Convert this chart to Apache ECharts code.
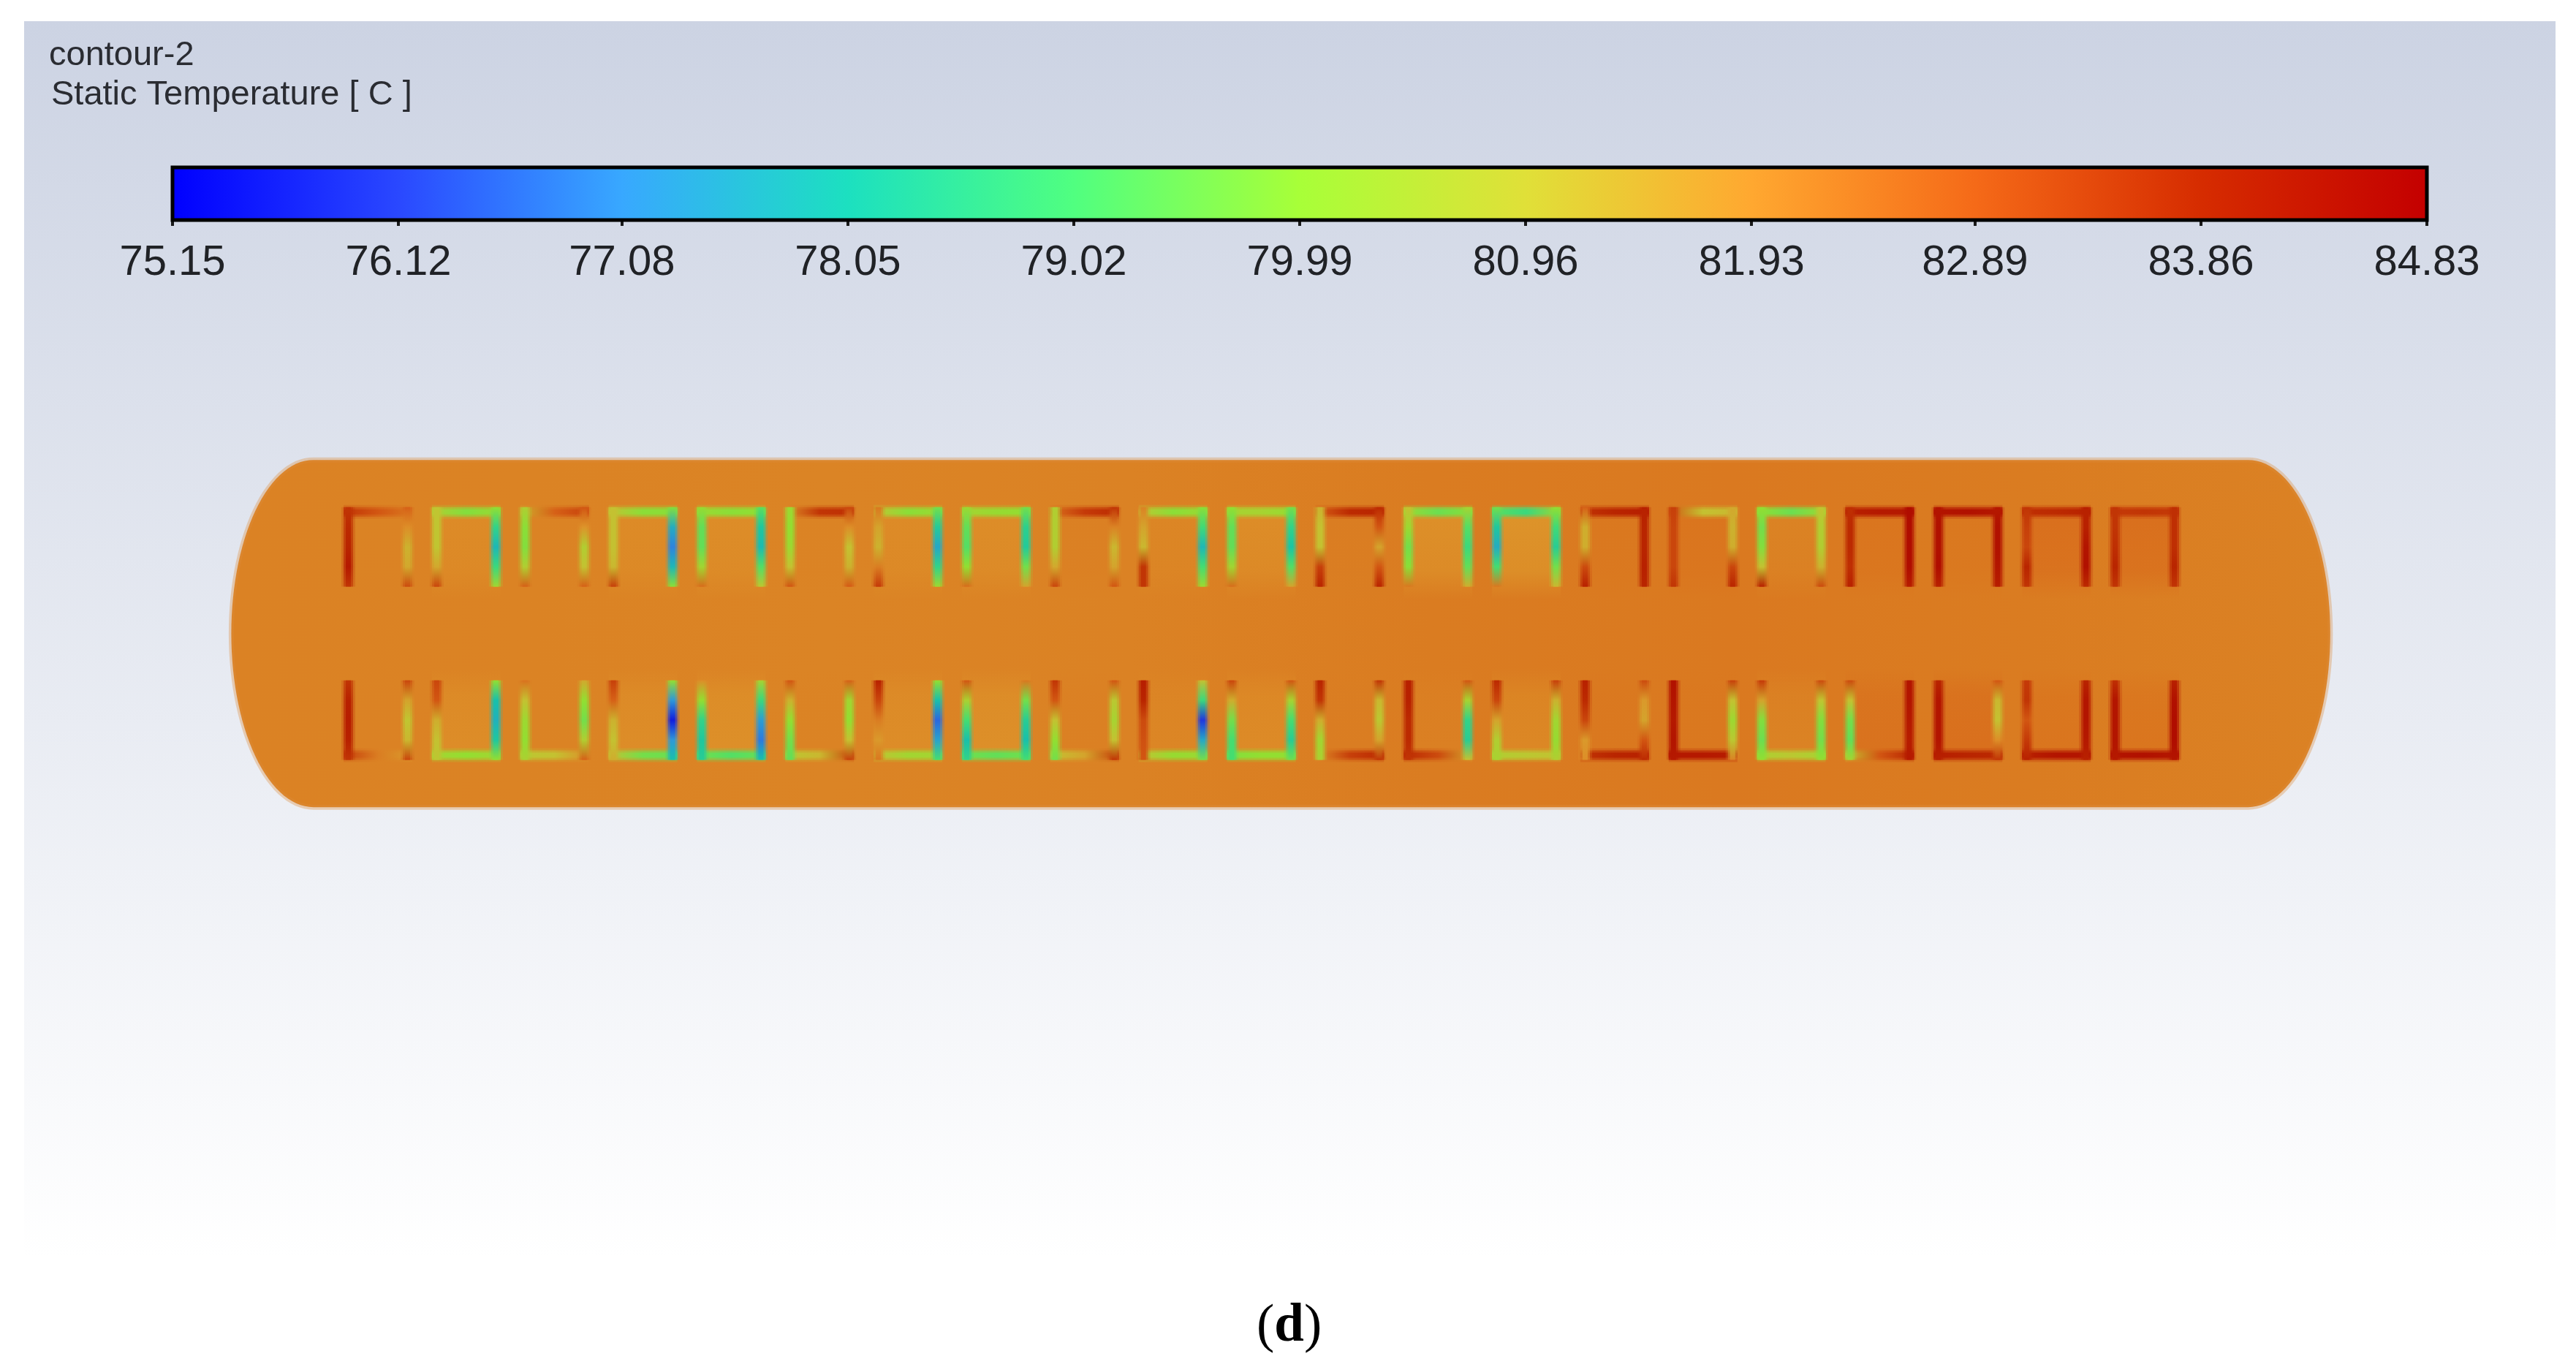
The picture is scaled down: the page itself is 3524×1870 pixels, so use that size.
<!DOCTYPE html>
<html>
<head>
<meta charset="utf-8">
<title>contour-2</title>
<style>
	html, body { margin: 0; padding: 0; background: #fff; }
</style>
<script src="https://cdn.jsdelivr.net/npm/echarts@6/dist/echarts.min.js"></script>
</head>
<body>
<!-- chart dom, same size as the window -->
<div id="main" style="width: 3524px;height:1870px;"></div>
<script type="text/javascript">
	// colour scale: tick labels and colour of the legend bar at each tick
	var tickLabels = ['75.15', '76.12', '77.08', '78.05', '79.02', '79.99', '80.96', '81.93', '82.89', '83.86', '84.83'];
	var tickColors = ['#0000ff', '#2a48ff', '#38a8ff', '#1ce0c0', '#50ff80', '#a8ff38', '#e0e038', '#ffa830', '#f56a18', '#d62c00', '#c40000'];

	// temperature of the body along its length, left end to right end
	var bodyTemps = [82.22, 82.2, 82.18, 82.22, 82.34, 82.38, 82.32, 82.22];
	// temperature inside each of the 21 tubes
	var insideTop = [82.2, 82.05, 82.2, 82.05, 82.02, 82.2, 82.05, 82.02, 82.25, 82.15, 82.02, 82.3, 81.98, 81.9, 82.4, 82.45, 82.2, 82.45, 82.4, 82.55, 82.55];
	var insideBottom = [82.22, 82.02, 82.2, 82.02, 81.98, 82.2, 82.02, 81.98, 82.25, 82.15, 82.05, 82.3, 82.25, 82.12, 82.4, 82.4, 82.2, 82.5, 82.55, 82.45, 82.45];

	// tube walls, upper row: left and right wall read top to bottom, cross wall read left to right
	var topLeft = [
		[83.6, 83.8, 83.9, 84.2, 83.6], [80.9, 80.9, 80.9, 81.5, 83.3], [80.6, 79.9, 79.8, 80.6, 82.8],
		[81.0, 81.0, 81.0, 81.2, 83.4], [80.1, 79.4, 79.4, 80.3, 82.6], [80.2, 80.0, 80.2, 81.0, 83.0],
		[82.4, 81.6, 81.3, 82.3, 83.5], [80.2, 79.4, 79.2, 80.0, 82.6], [80.6, 80.6, 80.6, 81.5, 83.3],
		[82.2, 81.6, 81.2, 83.6, 83.6], [80.0, 79.4, 79.4, 80.3, 82.6], [81.3, 81.0, 81.0, 83.4, 83.9],
		[81.0, 80.2, 79.6, 79.9, 82.4], [79.6, 78.2, 77.6, 79.0, 82.4], [82.8, 81.4, 81.4, 83.2, 84.0],
		[83.4, 83.3, 83.3, 83.3, 83.6], [80.0, 79.6, 79.8, 81.0, 84.0], [83.7, 83.8, 83.8, 83.7, 84.0],
		[84.3, 84.4, 84.4, 84.5, 84.0], [83.6, 83.4, 83.3, 83.9, 83.6], [83.6, 83.6, 83.7, 83.9, 83.6]
	];
	var topCross = [
		[83.6, 83.0, 82.4], [80.6, 79.8, 80.2], [81.4, 82.8, 83.4], [81.0, 79.9, 79.9], [80.2, 79.9, 80.0],
		[82.0, 83.6, 83.7], [81.0, 79.9, 80.2], [80.4, 80.1, 80.0], [82.5, 83.5, 83.8], [80.9, 79.9, 80.2],
		[80.4, 80.4, 80.0], [82.8, 83.8, 83.9], [80.2, 79.5, 79.9], [79.3, 78.8, 80.3], [83.6, 83.9, 84.1],
		[83.0, 81.0, 81.2], [80.0, 79.5, 80.2], [84.0, 84.2, 84.2], [84.3, 84.4, 84.2], [83.7, 83.8, 84.0],
		[83.5, 83.6, 83.5]
	];
	var topRight = [
		[82.8, 82.0, 81.3, 81.5, 83.2], [80.0, 78.6, 77.8, 78.8, 80.3], [83.0, 81.9, 80.6, 81.0, 82.8],
		[79.8, 77.6, 76.9, 77.8, 79.9], [79.3, 78.2, 77.9, 79.2, 80.8], [83.3, 82.0, 81.0, 81.3, 82.9],
		[79.6, 78.3, 77.5, 78.6, 80.2], [79.6, 78.5, 78.3, 79.6, 81.6], [83.6, 82.2, 81.2, 81.6, 83.0],
		[79.9, 78.9, 77.8, 79.0, 80.2], [79.6, 78.6, 78.1, 79.2, 81.6], [83.8, 83.0, 81.6, 83.0, 83.9],
		[80.4, 79.2, 78.8, 79.4, 81.4], [80.0, 78.9, 78.4, 79.6, 81.2], [84.0, 83.9, 83.9, 84.0, 83.9],
		[81.5, 81.3, 81.4, 83.3, 83.9], [80.9, 80.6, 80.6, 81.3, 83.2], [84.5, 84.5, 84.5, 84.5, 84.1],
		[84.2, 84.4, 84.4, 84.3, 84.1], [84.0, 84.0, 84.3, 84.4, 83.8], [83.7, 83.7, 83.7, 83.9, 83.6]
	];

	// tube walls, lower row
	var bottomLeft = [
		[83.6, 84.0, 84.1, 84.0, 83.6], [83.3, 83.0, 81.4, 81.0, 80.8], [82.5, 81.0, 80.2, 80.0, 80.5],
		[83.4, 82.8, 81.3, 81.0, 81.4], [82.0, 80.0, 78.6, 78.2, 78.4], [83.0, 81.3, 80.0, 79.6, 79.4],
		[84.0, 83.3, 82.3, 81.8, 82.4], [83.0, 80.5, 79.0, 78.0, 78.6], [83.6, 83.0, 81.0, 80.0, 79.6],
		[84.1, 83.9, 83.2, 83.1, 83.0], [83.3, 81.4, 79.6, 79.0, 79.0], [83.9, 83.6, 81.4, 80.3, 80.5],
		[84.0, 84.0, 83.8, 83.8, 83.6], [83.8, 83.3, 81.6, 80.6, 80.4], [84.0, 83.8, 83.3, 81.8, 82.0],
		[84.4, 84.3, 84.2, 84.3, 84.2], [83.5, 81.6, 79.8, 79.5, 80.0], [83.2, 81.0, 79.6, 79.4, 80.3],
		[83.9, 84.3, 84.3, 84.3, 84.0], [83.5, 83.6, 83.0, 83.5, 84.0], [83.7, 84.3, 84.3, 84.3, 84.2]
	];
	var bottomCross = [
		[83.4, 82.3, 81.8], [80.4, 80.0, 80.4], [80.8, 81.0, 82.0], [81.0, 79.6, 79.5], [79.6, 79.2, 79.5],
		[80.8, 81.2, 83.3], [81.0, 80.3, 80.4], [79.6, 79.4, 79.6], [81.0, 81.6, 83.4], [81.0, 80.1, 80.2],
		[79.8, 80.0, 80.0], [82.0, 83.4, 83.8], [83.8, 83.2, 81.6], [80.6, 80.8, 81.0], [83.6, 83.9, 84.0],
		[84.2, 84.2, 84.1], [80.5, 80.8, 80.4], [81.0, 83.0, 83.9], [84.1, 83.9, 83.8], [84.0, 84.3, 84.3],
		[84.3, 84.4, 84.2]
	];
	var bottomRight = [
		[83.3, 81.6, 80.9, 81.2, 83.3], [80.0, 78.0, 77.7, 78.2, 80.0], [81.5, 80.0, 79.6, 80.6, 82.8],
		[80.0, 77.2, 75.6, 77.2, 78.0], [80.4, 78.8, 77.3, 76.8, 78.0], [82.8, 80.3, 80.0, 81.0, 83.4],
		[80.0, 78.0, 76.6, 77.4, 79.0], [82.4, 79.6, 78.4, 78.0, 79.0], [83.0, 80.8, 80.4, 81.0, 83.6],
		[81.0, 78.8, 76.0, 77.5, 79.6], [83.0, 80.4, 79.0, 78.4, 79.5], [83.6, 81.2, 80.8, 81.6, 83.6],
		[83.0, 80.4, 78.6, 78.4, 81.0], [83.4, 81.3, 80.3, 80.1, 80.6], [83.2, 81.8, 81.6, 83.0, 83.8],
		[83.4, 81.0, 80.2, 80.8, 82.2], [83.2, 80.9, 79.8, 79.6, 80.0], [84.3, 84.3, 84.2, 84.1, 84.2],
		[83.0, 81.2, 81.0, 82.0, 83.6], [83.9, 84.3, 84.3, 84.2, 84.0], [84.0, 84.4, 84.5, 84.5, 84.3]
	];

	// the contour is a bit darker than the legend bar, like a lit surface
	var SHADE = 0.87;
	var tickValues = tickLabels.map(Number);

	function barColor(t) {
		var n = tickValues.length - 1;
		for (var i = 0; i < n; i++) {
			if (t <= tickValues[i + 1]) {
				var f = Math.max(0, (t - tickValues[i]) / (tickValues[i + 1] - tickValues[i]));
				return echarts.color.lerp(f, [tickColors[i], tickColors[i + 1]]);
			}
		}
		return tickColors[n];
	}

	function tempColor(t, alpha) {
		var c = echarts.color.parse(barColor(t));
		return 'rgba(' + Math.round(c[0] * SHADE) + ',' + Math.round(c[1] * SHADE) + ',' + Math.round(c[2] * SHADE) + ',' + (alpha === undefined ? 1 : alpha) + ')';
	}

	function gradient(temps, vertical, colorFn, alpha) {
		var stops = temps.map(function(t, i) {
			return { offset: i / (temps.length - 1), color: colorFn(t, alpha) };
		});
		return new echarts.graphic.LinearGradient(0, 0, vertical ? 0 : 1, vertical ? 1 : 0, stops);
	}

	// geometry of the model, in tube pitches, tube 0 at x = 0 and the axis of the body at y = 0
	var TUBE_HALF_W = 0.389, TUBE_OUT = 1.43, TUBE_IN = 0.53, WALL = 0.108;
	var BODY_X0 = -1.66, BODY_X1 = 22.1, CAP = 0.93, BODY_HALF_H = 1.965;

	// flat list of what the contour series draws, built from the arrays above
	var items = [];
	insideTop.forEach(function(t, i) { items.push({ kind: 'inside', tube: i, side: 1, temps: [t] }); });
	insideBottom.forEach(function(t, i) { items.push({ kind: 'inside', tube: i, side: -1, temps: [t] }); });
	[[1, topCross, topLeft, topRight], [-1, bottomCross, bottomLeft, bottomRight]].forEach(function(row) {
		row[1].forEach(function(t, i) { items.push({ kind: 'cross', tube: i, side: row[0], temps: t }); });
		row[2].forEach(function(t, i) { items.push({ kind: 'left', tube: i, side: row[0], temps: t }); });
		row[3].forEach(function(t, i) { items.push({ kind: 'right', tube: i, side: row[0], temps: t }); });
	});

	function rectOf(api, x0, y0, x1, y1) {
		var a = api.coord([x0, y0]), b = api.coord([x1, y1]);
		return {
			x: Math.min(a[0], b[0]), y: Math.min(a[1], b[1]),
			width: Math.abs(b[0] - a[0]), height: Math.abs(b[1] - a[1])
		};
	}

	function renderBody(params, api) {
		var pts = [], k;
		// left cap then right cap, both half ellipses
		for (k = 0; k <= 60; k++) {
			var a = Math.PI / 2 + Math.PI * k / 60;
			pts.push(api.coord([BODY_X0 + CAP + CAP * Math.cos(a), BODY_HALF_H * Math.sin(a)]));
		}
		for (k = 0; k <= 60; k++) {
			var b = -Math.PI / 2 + Math.PI * k / 60;
			pts.push(api.coord([BODY_X1 - CAP + CAP * Math.cos(b), BODY_HALF_H * Math.sin(b)]));
		}
		return {
			type: 'polygon',
			shape: { points: pts },
			style: {
				fill: gradient(bodyTemps, false, tempColor),
				stroke: 'rgba(222,140,60,0.35)',
				lineWidth: 7
			}
		};
	}

	// one wall = three rects, from a faint rim to a full colour core, so its edge looks blurred
	function wallLayer(api, it, grow, alpha) {
		var l = it.tube - TUBE_HALF_W, r = it.tube + TUBE_HALF_W;
		var s = it.side;
		var vertical = it.kind !== 'cross';
		var shape;
		if (vertical) {
			var x0 = it.kind === 'left' ? l : r - WALL;
			shape = rectOf(api, x0 - grow, s * TUBE_OUT, x0 + WALL + grow, s * TUBE_IN);
		} else {
			shape = rectOf(api, l, s * (TUBE_OUT + grow), r, s * (TUBE_OUT - WALL - grow));
		}
		return { type: 'rect', shape: shape, style: { fill: gradient(it.temps, vertical, tempColor, alpha) } };
	}

	function renderTube(params, api) {
		var it = items[params.dataIndex];
		var px = api.size([1, 0])[0];
		if (it.kind === 'inside') {
			var s = it.side;
			return {
				type: 'rect',
				shape: rectOf(api, it.tube - TUBE_HALF_W, s * TUBE_OUT, it.tube + TUBE_HALF_W, s * (TUBE_IN - 0.14)),
				style: {
					fill: new echarts.graphic.LinearGradient(0, s > 0 ? 0 : 1, 0, s > 0 ? 1 : 0, [
						{ offset: 0, color: tempColor(it.temps[0], 1) },
						{ offset: 0.7, color: tempColor(it.temps[0], 0.75) },
						{ offset: 1, color: tempColor(it.temps[0], 0) }
					])
				}
			};
		}
		return {
			type: 'group',
			children: [
				wallLayer(api, it, 3 / px, 0.22),
				wallLayer(api, it, 0, 0.6),
				wallLayer(api, it, -3 / px, 1)
			]
		};
	}

	function renderLegendBar(params, api) {
		var a = api.coord([tickValues[0], 1]), b = api.coord([tickValues[tickValues.length - 1], 0]);
		var stops = tickValues.map(function(v, i) {
			return { offset: (v - tickValues[0]) / (tickValues[tickValues.length - 1] - tickValues[0]), color: tickColors[i] };
		});
		return {
			type: 'rect',
			shape: { x: a[0], y: a[1], width: b[0] - a[0], height: b[1] - a[1] },
			style: { fill: new echarts.graphic.LinearGradient(0, 0, 1, 0, stops) }
		};
	}

	var chart = echarts.init(document.getElementById('main'), null, { renderer: 'canvas' });

	chart.setOption({
		animation: false,
		backgroundColor: '#ffffff',
		textStyle: { fontFamily: 'Liberation Sans' },
		title: [{
			text: 'contour-2',
			left: 62, top: 48,
			textStyle: { color: '#2a2c32', fontSize: 47, fontWeight: 'normal', fontFamily: 'Liberation Sans' }
		}, {
			text: 'Static Temperature [ C ]',
			left: 65, top: 102,
			textStyle: { color: '#2a2c32', fontSize: 47, fontWeight: 'normal', fontFamily: 'Liberation Sans' }
		}, {
			text: '{p|(}{b|d}{p|)}',
			left: 1714, top: 1774,
			textStyle: {
				rich: {
					p: { fontFamily: 'Liberation Serif', fontSize: 73, fontWeight: 'normal', color: '#000' },
					b: { fontFamily: 'Liberation Serif', fontSize: 73, fontWeight: 'bold', color: '#000' }
				}
			}
		}],
		grid: [{
			// the fluent viewport with its fading background, tube pitch is 120.85 px
			left: 33, top: 29, width: 3463, height: 1691,
			show: true,
			borderWidth: 0,
			backgroundColor: new echarts.graphic.LinearGradient(0, 0, 0, 1, [
				{ offset: 0, color: '#ccd3e3' },
				{ offset: 1, color: '#ffffff' }
			])
		}, {
			left: 236, top: 229, width: 3084, height: 72,
			show: true,
			z: 5,
			borderColor: '#000',
			borderWidth: 5,
			backgroundColor: 'transparent'
		}],
		xAxis: [{
			type: 'value', gridIndex: 0, min: -4.005, max: 24.65, show: false
		}, {
			type: 'value', gridIndex: 1,
			min: tickValues[0], max: tickValues[tickValues.length - 1],
			splitLine: { show: false },
			axisLine: { show: false },
			axisTick: {
				customValues: tickValues,
				length: 8, inside: false,
				lineStyle: { color: '#1a1a1a', width: 4 }
			},
			axisLabel: {
				customValues: tickValues,
				margin: 30,
				fontSize: 58,
				color: '#202226',
				fontFamily: 'Liberation Sans',
				formatter: function(v) { return v.toFixed(2); }
			}
		}],
		yAxis: [{
			type: 'value', gridIndex: 0, min: -7.06, max: 6.93, show: false
		}, {
			type: 'value', gridIndex: 1, min: 0, max: 1, show: false
		}],
		series: [{
			name: 'body',
			type: 'custom',
			xAxisIndex: 0, yAxisIndex: 0,
			coordinateSystem: 'cartesian2d',
			silent: true,
			clip: false,
			renderItem: renderBody,
			data: [[0, 0]],
			encode: { x: 0, y: 1 },
			z: 2
		}, {
			name: 'Static Temperature',
			type: 'custom',
			xAxisIndex: 0, yAxisIndex: 0,
			silent: true,
			renderItem: renderTube,
			data: items.map(function(it) { return [it.tube, it.side, it.temps[0]]; }),
			encode: { x: 0, y: 1 },
			z: 3
		}, {
			name: 'legend bar',
			type: 'custom',
			xAxisIndex: 1, yAxisIndex: 1,
			silent: true,
			renderItem: renderLegendBar,
			data: [[tickValues[0], 0]],
			encode: { x: 0, y: 1 },
			z: 2
		}]
	});
</script>
</body>
</html>
